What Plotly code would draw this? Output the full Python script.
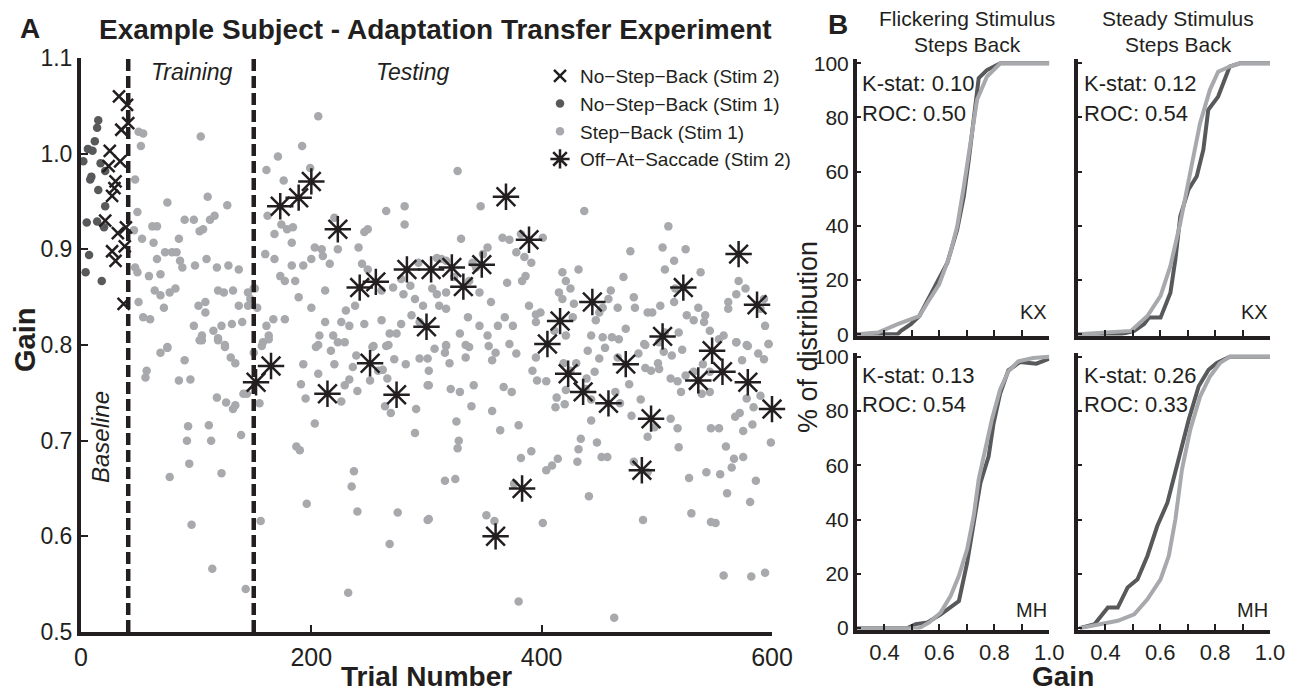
import plotly.graph_objects as go

# ---------------- DATA ----------------
# Panel A : Step-Back (Stim 1) trials (light gray dots)
step_back_trial = [
    206, 104, 50, 54, 52, 192, 171, 161, 176, 199, 47, 110, 75, 127, 49, 162, 174, 179, 184, 168,
    183, 46, 53, 63, 62, 66, 85, 90, 98, 103, 106, 112, 116, 220, 223, 249, 246, 265, 281, 281,
    209, 203, 210, 216, 200, 193, 160, 168, 183, 73, 79, 83, 66, 86, 88, 99, 109, 118, 128, 137,
    47, 49, 59, 69, 173, 177, 186, 244, 241, 249, 278, 286, 293, 64, 69, 72, 77, 82, 119, 124,
    132, 145, 150, 102, 108, 108, 50, 137, 145, 153, 189, 200, 212, 238, 230, 261, 271, 280, 290, 297,
    287, 294, 278, 54, 60, 98, 105, 105, 115, 122, 131, 140, 119, 125, 161, 167, 177, 163, 158, 212,
    226, 233, 246, 261, 268, 274, 219, 223, 207, 229, 206, 254, 267, 75, 151, 147,
    327, 347, 437, 510, 366, 372, 401, 330, 382, 353, 349, 378, 385, 391, 340, 343, 309, 313, 317, 324,
    337, 418, 432, 421, 425, 415, 386, 383, 370, 356, 346, 317, 309, 311, 317, 336, 346, 368, 362, 375,
    389, 395, 399, 418, 428, 460, 458, 453, 466, 450, 447, 471, 480, 481, 492, 496, 503, 477, 505, 515,
    525, 507, 538, 516, 515, 536, 526, 532, 542, 571, 577, 569, 562, 562, 593, 590, 594, 597, 578, 569,
    558, 546, 541, 519, 507, 502, 489, 473, 461, 453, 443, 427, 421, 411, 395, 329, 317, 334, 353, 372, 305,
    69, 75, 57, 56, 90, 85, 95, 103, 119, 125, 130, 134, 118, 126, 134, 132, 141, 144, 150, 157,
    163, 155, 93, 92, 111, 113, 139, 94, 77, 122, 96, 114, 143, 156, 187, 190, 203, 196, 193, 191,
    195, 204, 206, 217, 220, 226, 229, 233, 240, 236, 239, 253, 251, 258, 262, 266, 265, 272, 282, 294,
    301, 301, 264, 269, 291, 290, 237, 235, 240, 275, 268, 232, 301,
    307, 317, 316, 302, 302, 320, 334, 337, 321, 329, 341, 339, 357, 360, 354, 378, 367, 374, 357, 364,
    380, 326, 328, 327, 382, 391, 316, 325, 302, 352, 359, 376, 380, 401, 404, 409, 414, 396, 404, 392,
    395, 413, 412, 420, 419, 430, 425, 421, 439, 438, 446, 443, 443, 440, 450, 455, 464, 468, 476, 466,
    484, 490, 490, 495, 501, 502, 506, 513, 522, 512, 518, 521, 525, 532, 539, 546, 540, 546, 554, 569,
    579, 588, 593, 597, 574, 590, 584, 578, 572, 568, 583, 575, 547, 554, 560, 567, 575, 565, 599, 586,
    561, 581, 555, 543, 528, 530, 547, 551, 558, 582, 594, 519, 518, 512, 498, 492, 486, 478, 480, 492,
    488, 463, 448, 431, 432, 434, 452, 457, 441, 467,
]
step_back_gain = [
    1.039, 1.018, 1.023, 1.021, 1.008, 1.008, 0.997, 0.983, 0.972, 0.985, 0.973, 0.955, 0.949, 0.946, 0.939, 0.935, 0.926, 0.921, 0.923, 0.916,
    0.907, 0.920, 0.911, 0.907, 0.924, 0.924, 0.911, 0.931, 0.931, 0.919, 0.921, 0.931, 0.935, 0.933, 0.900, 0.921, 0.918, 0.940, 0.945, 0.926,
    0.900, 0.902, 0.893, 0.885, 0.890, 0.883, 0.895, 0.890, 0.883, 0.897, 0.897, 0.897, 0.890, 0.888, 0.881, 0.883, 0.890, 0.881, 0.883, 0.879,
    0.881, 0.876, 0.872, 0.874, 0.872, 0.867, 0.867, 0.885, 0.902, 0.879, 0.869, 0.862, 0.886, 0.857, 0.852, 0.839, 0.855, 0.859, 0.857, 0.855,
    0.857, 0.855, 0.859, 0.841, 0.845, 0.834, 0.845, 0.841, 0.841, 0.839, 0.850, 0.839, 0.857, 0.841, 0.836, 0.857, 0.860, 0.853, 0.848, 0.841,
    0.831, 0.824, 0.822, 0.829, 0.827, 0.820, 0.810, 0.805, 0.815, 0.820, 0.822, 0.824, 0.807, 0.800, 0.820, 0.827, 0.827, 0.810, 0.803, 0.824,
    0.824, 0.820, 0.822, 0.826, 0.812, 0.812, 0.810, 0.803, 0.810, 0.803, 0.800, 0.799, 0.800, 0.798, 0.859, 0.848,
    0.982, 0.945, 0.940, 0.924, 0.912, 0.910, 0.912, 0.911, 0.916, 0.902, 0.895, 0.897, 0.892, 0.886, 0.886, 0.881, 0.891, 0.890, 0.888, 0.871,
    0.867, 0.876, 0.879, 0.867, 0.859, 0.855, 0.872, 0.867, 0.865, 0.845, 0.855, 0.855, 0.853, 0.841, 0.838, 0.829, 0.820, 0.829, 0.820, 0.820,
    0.841, 0.832, 0.834, 0.848, 0.843, 0.857, 0.848, 0.839, 0.839, 0.834, 0.826, 0.871, 0.850, 0.839, 0.834, 0.834, 0.841, 0.898, 0.902, 0.888,
    0.900, 0.879, 0.876, 0.859, 0.845, 0.839, 0.831, 0.826, 0.831, 0.867, 0.859, 0.853, 0.845, 0.838, 0.848, 0.838, 0.820, 0.801, 0.800, 0.803,
    0.810, 0.815, 0.824, 0.813, 0.813, 0.803, 0.801, 0.817, 0.808, 0.808, 0.810, 0.829, 0.810, 0.815, 0.824, 0.812, 0.800, 0.800, 0.810, 0.801, 0.859,
    0.792, 0.797, 0.773, 0.766, 0.784, 0.763, 0.764, 0.805, 0.805, 0.798, 0.787, 0.781, 0.745, 0.740, 0.737, 0.733, 0.749, 0.749, 0.792, 0.799,
    0.806, 0.739, 0.715, 0.700, 0.716, 0.700, 0.706, 0.676, 0.662, 0.666, 0.612, 0.566, 0.545, 0.616, 0.694, 0.690, 0.718, 0.634, 0.780, 0.759,
    0.744, 0.798, 0.770, 0.794, 0.780, 0.741, 0.758, 0.764, 0.752, 0.777, 0.789, 0.798, 0.763, 0.773, 0.774, 0.765, 0.799, 0.785, 0.780, 0.786,
    0.786, 0.758, 0.736, 0.729, 0.733, 0.708, 0.668, 0.652, 0.626, 0.625, 0.592, 0.541, 0.617,
    0.796, 0.799, 0.792, 0.773, 0.758, 0.781, 0.787, 0.798, 0.754, 0.751, 0.758, 0.736, 0.784, 0.792, 0.799, 0.791, 0.756, 0.751, 0.731, 0.711,
    0.716, 0.720, 0.700, 0.692, 0.682, 0.689, 0.658, 0.660, 0.618, 0.622, 0.616, 0.655, 0.532, 0.614, 0.669, 0.674, 0.681, 0.763, 0.762, 0.773,
    0.787, 0.745, 0.735, 0.738, 0.781, 0.781, 0.773, 0.753, 0.765, 0.754, 0.772, 0.743, 0.721, 0.794, 0.786, 0.797, 0.751, 0.739, 0.759, 0.787,
    0.791, 0.800, 0.776, 0.773, 0.781, 0.775, 0.793, 0.789, 0.795, 0.765, 0.762, 0.751, 0.768, 0.772, 0.749, 0.751, 0.780, 0.772, 0.806, 0.803,
    0.799, 0.791, 0.785, 0.801, 0.784, 0.747, 0.735, 0.744, 0.729, 0.725, 0.717, 0.710, 0.713, 0.713, 0.694, 0.681, 0.683, 0.672, 0.698, 0.658,
    0.645, 0.636, 0.665, 0.667, 0.661, 0.624, 0.615, 0.614, 0.559, 0.558, 0.562, 0.693, 0.713, 0.723, 0.714, 0.704, 0.743, 0.726, 0.678, 0.667,
    0.617, 0.515, 0.698, 0.678, 0.691, 0.702, 0.683, 0.683, 0.642, 0.806,
]

# Panel A : No-Step-Back (Stim 1) baseline trials (dark gray dots)
nsb1_trial = [15, 14, 12, 6, 10, 2, 17, 21, 9, 8, 15, 21, 5, 14, 20, 7, 4, 18]
nsb1_gain = [1.035, 1.027, 1.013, 1.005, 1.003, 0.992, 0.990, 0.982, 0.976, 0.973,
             0.962, 0.945, 0.928, 0.929, 0.923, 0.894, 0.876, 0.867]

# Panel A : No-Step-Back (Stim 2) trials (x markers)
nsb2_trial = [33, 40, 35, 41, 25, 34, 24, 30, 29, 27, 21, 32, 39, 27, 38, 30, 37]
nsb2_gain = [1.060, 1.051, 1.025, 1.032, 1.003, 0.992, 0.987, 0.971, 0.964, 0.956,
             0.930, 0.917, 0.923, 0.898, 0.903, 0.888, 0.843]

# Panel A : Off-At-Saccade (Stim 2) trials (asterisks)
oas_trial = [152, 165, 173, 189, 200, 214, 223, 242, 251, 256, 274, 283, 300, 304, 322, 332,
             348, 369, 383, 360, 389, 405, 416, 423, 436, 444, 458, 473, 487, 495, 505, 523,
             536, 548, 557, 571, 579, 587, 600]
oas_gain = [0.761, 0.778, 0.945, 0.954, 0.971, 0.749, 0.921, 0.860, 0.781, 0.866, 0.748, 0.879,
            0.819, 0.879, 0.881, 0.861, 0.884, 0.955, 0.650, 0.600, 0.910, 0.801, 0.825, 0.770,
            0.751, 0.845, 0.739, 0.780, 0.669, 0.723, 0.809, 0.860, 0.763, 0.794, 0.772, 0.895,
            0.761, 0.842, 0.733]

# Phase boundaries (trial numbers)
phase_boundaries = [41, 150]
phase_labels = ["Baseline", "Training", "Testing"]

# Panel B : cumulative distributions (% of distribution vs gain)
kx_flick_sb_gain = [0.30, 0.448, 0.460, 0.496, 0.527, 0.557, 0.593, 0.629, 0.665, 0.689, 0.707, 0.725, 0.743, 0.773, 0.822, 1.00]
kx_flick_sb_pct = [0, 0, 1.2, 3.7, 6.7, 12.3, 19.0, 26.4, 38.7, 50.9, 64.4, 79.1, 94.5, 97.5, 100, 100]
kx_flick_ref_gain = [0.30, 0.376, 0.448, 0.527, 0.557, 0.599, 0.635, 0.665, 0.689, 0.713, 0.737, 0.773, 0.822, 1.00]
kx_flick_ref_pct = [0, 0.6, 3.7, 6.7, 11.7, 18.4, 28.2, 39.9, 54.6, 71.8, 86.5, 95.1, 100, 100]

kx_steady_sb_gain = [0.30, 0.457, 0.505, 0.541, 0.559, 0.601, 0.637, 0.655, 0.673, 0.703, 0.733, 0.757, 0.775, 0.811, 0.853, 0.890, 1.00]
kx_steady_sb_pct = [0, 0, 1.2, 3.7, 6.1, 6.1, 15.3, 27.6, 43.6, 53.4, 58.3, 68.1, 82.8, 87.7, 98.8, 100, 100]
kx_steady_ref_gain = [0.30, 0.409, 0.493, 0.553, 0.601, 0.637, 0.673, 0.709, 0.745, 0.781, 0.811, 0.853, 0.890, 1.00]
kx_steady_ref_pct = [0, 0.5, 1.2, 6.7, 14.1, 25.2, 41.1, 59.5, 77.9, 90.2, 96.9, 98.8, 100, 100]

mh_flick_sb_gain = [0.30, 0.484, 0.514, 0.557, 0.605, 0.671, 0.701, 0.725, 0.749, 0.779, 0.797, 0.821, 0.851, 0.893, 0.953, 1.00]
mh_flick_sb_pct = [0, 0, 1.5, 2.1, 5.1, 10.0, 24.1, 38.8, 53.4, 63.2, 75.4, 86.4, 95.0, 98.0, 97.4, 99.3]
mh_flick_ref_gain = [0.30, 0.46, 0.526, 0.563, 0.605, 0.641, 0.671, 0.701, 0.725, 0.743, 0.767, 0.791, 0.821, 0.851, 0.887, 0.941, 1.00]
mh_flick_ref_pct = [0, 0, 0, 2.1, 5.8, 11.9, 19.3, 29.1, 41.4, 54.8, 65.8, 76.9, 87.9, 94.6, 98.3, 99.5, 100]

mh_steady_sb_gain = [0.306, 0.361, 0.409, 0.445, 0.481, 0.517, 0.553, 0.589, 0.626, 0.644, 0.674, 0.704, 0.740, 0.776, 0.806, 0.854, 1.00]
mh_steady_sb_pct = [0, 1.5, 7.6, 7.6, 15.0, 18.0, 26.6, 37.6, 46.2, 53.5, 64.6, 76.9, 89.1, 95.2, 97.7, 100, 100]
mh_steady_ref_gain = [0.306, 0.384, 0.445, 0.505, 0.553, 0.601, 0.631, 0.655, 0.679, 0.709, 0.745, 0.781, 0.817, 0.854, 1.00]
mh_steady_ref_pct = [0, 1.5, 2.7, 5.1, 10.6, 18.0, 26.6, 40.0, 58.4, 73.0, 85.3, 92.7, 97.6, 100, 100]

panel_titles = ["Flickering Stimulus", "Steady Stimulus"]
kstat_text = ["K-stat: 0.10", "K-stat: 0.12", "K-stat: 0.13", "K-stat: 0.26"]
roc_text = ["ROC: 0.50", "ROC: 0.54", "ROC: 0.54", "ROC: 0.33"]
subjects = ["KX", "KX", "MH", "MH"]
cdf_xticks = [0.4, 0.5, 0.6, 0.7, 0.8, 0.9, 1.0]
cdf_xticklabels = ["0.4", "", "0.6", "", "0.8", "", "1.0"]
cdf_yticks = [0, 20, 40, 60, 80, 100]
main_yticks = [0.5, 0.6, 0.7, 0.8, 0.9, 1.0, 1.1]
main_xticks = [0, 200, 400, 600]

# ---------------- STYLE ----------------
W, H = 1296, 692
OFF = 8  # the page body margin that offsets the figure inside the window
INK = "#231f20"
DARK = "#58595b"
LIGHT = "#a7a9ac"
FONT = "Liberation Sans, Arial, Helvetica, sans-serif"


def px(x):
    return (x - OFF) / W


def py(y):
    return 1 - (y - OFF) / H


fig = go.Figure()

# Panel A traces
fig.add_trace(go.Scatter(x=step_back_trial, y=step_back_gain, mode="markers",
                         name="Step\u2212Back (Stim 1)", legendrank=3, cliponaxis=False,
                         marker=dict(color=LIGHT, size=8.5, line=dict(width=0))))
fig.add_trace(go.Scatter(x=nsb1_trial, y=nsb1_gain, mode="markers",
                         name="No\u2212Step\u2212Back (Stim 1)", legendrank=2, cliponaxis=False,
                         marker=dict(color=DARK, size=8.5, line=dict(width=0))))
fig.add_trace(go.Scatter(x=nsb2_trial, y=nsb2_gain, mode="markers",
                         name="No\u2212Step\u2212Back (Stim 2)", legendrank=1, cliponaxis=False,
                         marker=dict(symbol="x-thin-open", color=INK, size=12,
                                     line=dict(width=2.5, color=INK))))
fig.add_trace(go.Scatter(x=oas_trial, y=oas_gain, mode="markers",
                         name="Off\u2212At\u2212Saccade (Stim 2)", legendrank=4, cliponaxis=False,
                         marker=dict(symbol="asterisk-open", color=INK, size=22,
                                     line=dict(width=2.5, color=INK))))

for b in phase_boundaries:
    fig.add_shape(type="line", xref="x", yref="y", x0=b, x1=b, y0=0.5, y1=1.1,
                  line=dict(color=INK, width=4.5, dash="12px,5px"))

# Panel B traces
cdfs = [
    (kx_flick_sb_gain, kx_flick_sb_pct, kx_flick_ref_gain, kx_flick_ref_pct),
    (kx_steady_sb_gain, kx_steady_sb_pct, kx_steady_ref_gain, kx_steady_ref_pct),
    (mh_flick_sb_gain, mh_flick_sb_pct, mh_flick_ref_gain, mh_flick_ref_pct),
    (mh_steady_sb_gain, mh_steady_sb_pct, mh_steady_ref_gain, mh_steady_ref_pct),
]
for i, (g1, p1, g2, p2) in enumerate(cdfs):
    ax = str(i + 2)
    fig.add_trace(go.Scatter(x=g1, y=p1, mode="lines", showlegend=False, xaxis="x" + ax, yaxis="y" + ax,
                             line=dict(color=DARK, width=4), cliponaxis=False))
    fig.add_trace(go.Scatter(x=g2, y=p2, mode="lines", showlegend=False, xaxis="x" + ax, yaxis="y" + ax,
                             line=dict(color=LIGHT, width=4), cliponaxis=False))

axis_common = dict(showline=True, linecolor=INK, linewidth=4, showgrid=False, zeroline=False,
                   ticks="inside", tickcolor=INK, tickwidth=2, mirror=False, automargin=False)

layout = dict(
    width=W, height=H, margin=dict(l=0, r=0, t=0, b=0, autoexpand=False),
    paper_bgcolor="white", plot_bgcolor="white",
    font=dict(family=FONT, color=INK),
    showlegend=True,
    legend=dict(x=px(540), y=py(57), xanchor="left", yanchor="top",
                font=dict(family=FONT, size=19, color=INK),
                bgcolor="rgba(0,0,0,0)", itemsizing="trace", tracegroupgap=0),
    xaxis=dict(domain=[px(81), px(772)], range=[0, 600], tickvals=main_xticks,
               ticklen=7, tickfont=dict(size=25, color=INK), anchor="y", **axis_common),
    yaxis=dict(domain=[py(632), py(58)], range=[0.5, 1.1], tickvals=main_yticks,
               ticktext=[f"{v:.1f}" for v in main_yticks],
               ticklen=7, tickfont=dict(size=23, color=INK), anchor="x", **axis_common),
)

cdf_x_domains = [[px(857), px(1049.3)], [px(1078), px(1270)]]
cdf_y_domains = [[py(335.5), py(59.2)], [py(629.5), py(352.6)]]
for i in range(4):
    row, col = i // 2, i % 2
    ax = str(i + 2)
    layout["xaxis" + ax] = dict(domain=cdf_x_domains[col], range=[0.3, 1.0], anchor="y" + ax,
                                tickvals=cdf_xticks, ticktext=cdf_xticklabels, ticklen=6,
                                showticklabels=(row == 1),
                                tickfont=dict(size=22, color=INK), **axis_common)
    layout["yaxis" + ax] = dict(domain=cdf_y_domains[row], range=[-0.5, 101.5], anchor="x" + ax,
                                tickvals=cdf_yticks, ticklen=4,
                                showticklabels=(col == 0),
                                tickfont=dict(size=21, color=INK), **axis_common)

fig.update_layout(**layout)

ann = []


def add_text(text, x, y, size, xanchor="center", yanchor="middle", angle=0, family=FONT):
    ann.append(dict(text=text, x=px(x), y=py(y), xref="paper", yref="paper", showarrow=False,
                    xanchor=xanchor, yanchor=yanchor, textangle=angle,
                    font=dict(family=family, size=size, color=INK)))


add_text("<b>A</b>", 30, 28, 28)
add_text("<b>Example Subject - Adaptation Transfer Experiment</b>", 435, 30, 28)
add_text("<b>B</b>", 838, 25, 28)
add_text("<i>" + phase_labels[1] + "</i>", 192, 72, 23)
add_text("<i>" + phase_labels[2] + "</i>", 413, 72, 23)
add_text("<i>" + phase_labels[0] + "</i>", 100, 437, 24, angle=-90)
add_text("<b>Gain</b>", 25, 340, 29, angle=-90)
add_text("<b>Trial Number</b>", 426, 676, 28)
add_text("<b>Gain</b>", 1063, 676, 28)
add_text("% of distribution", 808, 337, 27, angle=-90)

title_x = [967, 1178]
for c in range(2):
    add_text(panel_titles[c], title_x[c], 18, 21)
    add_text("Steps Back", title_x[c], 45, 21)

k_left = [860, 1082]
k_top = [83, 375]
subj_right = [1049, 1270]
subj_y = [312, 610]
for i in range(4):
    row, col = i // 2, i % 2
    add_text(kstat_text[i], k_left[col], k_top[row], 22, xanchor="left")
    add_text(roc_text[i], k_left[col], k_top[row] + 30, 22, xanchor="left")
    add_text(subjects[i], subj_right[col], subj_y[row], 20, xanchor="right")

fig.update_layout(annotations=ann)
fig.write_html("out.html")
